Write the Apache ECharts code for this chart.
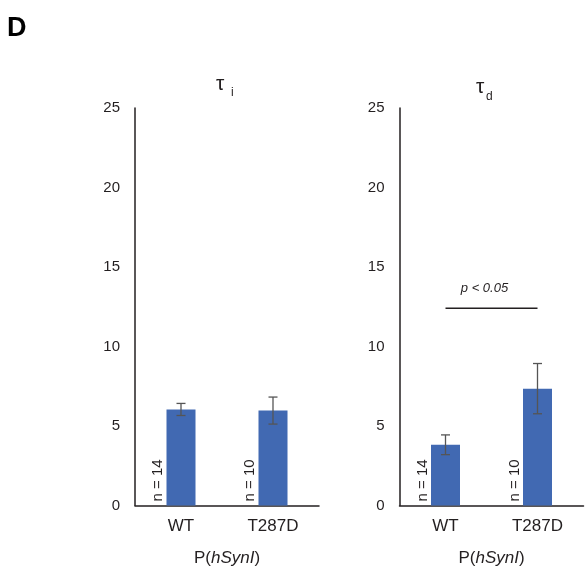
<!DOCTYPE html>
<html>
<head>
<meta charset="utf-8">
<script src="https://cdn.jsdelivr.net/npm/echarts@6/dist/echarts.min.js"></script>
<style>
  html, body { margin: 0; padding: 0; background: #fff; }
  #chart { width: 587px; height: 581px; }
</style>
</head>
<body>
<div id="chart"></div>
<script>
// 数据
const categories = ['WT', 'T287D'];
const nLabels = ['n = 14', 'n = 10'];
const tauIMean = [6.04, 5.97];
const tauIErr = [0.38, 0.85];
const tauDMean = [3.82, 7.35];
const tauDErr = [0.62, 1.58];
const yMax = 25;
const yStep = 5;
const sigLevel = 12.4;      // τd 两组之间的显著性横线
const sigText = 'p < 0.05';

const FONT = '"Liberation Sans", Arial, sans-serif';
const AXIS_COLOR = '#231f20';
const BAR_COLOR = '#4169b2';
const ERR_COLOR = '#555555';

/**
 * 误差线：竖线 + 上下两个短横
 */
function errorBarItem(means, errs) {
    return function (params, api) {
        const i = api.value(0);
        const hi = api.coord([i, means[i] + errs[i]]);
        const lo = api.coord([i, means[i] - errs[i]]);
        const half = 4.5;
        const style = { stroke: ERR_COLOR, lineWidth: 1.3 };
        return {
            type: 'group',
            children: [
                { type: 'line', shape: { x1: hi[0], y1: hi[1], x2: lo[0], y2: lo[1] }, style },
                { type: 'line', shape: { x1: hi[0] - half, y1: hi[1], x2: hi[0] + half, y2: hi[1] }, style },
                { type: 'line', shape: { x1: lo[0] - half, y1: lo[1], x2: lo[0] + half, y2: lo[1] }, style }
            ]
        };
    };
}

/**
 * 柱子左侧竖排的 n = xx 文字
 */
function nLabelItem(params, api) {
    const i = api.value(0);
    const p = api.coord([i, 0]);
    return {
        type: 'text',
        x: p[0] - 23,
        y: p[1] - 4,
        rotation: Math.PI / 2,
        style: {
            text: nLabels[i],
            font: '15px ' + FONT,
            fill: AXIS_COLOR,
            align: 'left',
            verticalAlign: 'middle'
        }
    };
}

function sigItem(params, api) {
    const a = api.coord([0, sigLevel]);
    const b = api.coord([1, sigLevel]);
    return {
        type: 'group',
        children: [
            { type: 'line', shape: { x1: a[0], y1: a[1], x2: b[0], y2: b[1] }, style: { stroke: AXIS_COLOR, lineWidth: 1.5 } },
            {
                type: 'text', x: (a[0] + b[0]) / 2 - 7, y: a[1] - 20,
                style: { text: sigText, font: 'italic 13px ' + FONT, fill: AXIS_COLOR, align: 'center', verticalAlign: 'middle' }
            }
        ]
    };
}

function xAxisFor(gridIndex) {
    return {
        type: 'category',
        gridIndex,
        data: categories,
        axisTick: { show: false },
        axisLine: { lineStyle: { color: AXIS_COLOR, width: 1.5 } },
        axisLabel: { color: AXIS_COLOR, fontSize: 17, fontFamily: FONT, margin: 12 },
        name: '{n|P(}{i|hSynI}{n|)}',
        nameLocation: 'middle',
        nameGap: 44,
        nameTextStyle: {
            rich: {
                n: { fontSize: 17, fontFamily: FONT, color: AXIS_COLOR },
                i: { fontSize: 17, fontFamily: FONT, color: AXIS_COLOR, fontStyle: 'italic' }
            }
        }
    };
}

function yAxisFor(gridIndex) {
    return {
        type: 'value',
        gridIndex,
        min: 0,
        max: yMax,
        interval: yStep,
        splitLine: { show: false },
        axisTick: { show: false },
        axisLine: { show: true, lineStyle: { color: AXIS_COLOR, width: 1.5 } },
        axisLabel: { color: AXIS_COLOR, fontSize: 15, fontFamily: FONT, margin: 15 }
    };
}

const chart = echarts.init(document.getElementById('chart'));
const idx = categories.map((_, i) => [i]);

chart.setOption({
    backgroundColor: '#fff',
    animation: false,
    grid: [
        { left: 135, top: 108, width: 184, height: 397.5 },
        { left: 399.5, top: 108, width: 184, height: 397.5 }
    ],
    xAxis: [xAxisFor(0), xAxisFor(1)],
    yAxis: [yAxisFor(0), yAxisFor(1)],
    graphic: [
        { type: 'text', left: 7, top: 15, style: { text: 'D', font: 'bold 27px ' + FONT, fill: '#000' } },
        { type: 'text', x: 216, y: 84, style: { text: 'τ', font: '21px ' + FONT, fill: AXIS_COLOR, verticalAlign: 'middle' } },
        { type: 'text', x: 231, y: 93, style: { text: 'i', font: '12px ' + FONT, fill: AXIS_COLOR, verticalAlign: 'middle' } },
        { type: 'text', x: 476, y: 87, style: { text: 'τ', font: '21px ' + FONT, fill: AXIS_COLOR, verticalAlign: 'middle' } },
        { type: 'text', x: 486, y: 97, style: { text: 'd', font: '12px ' + FONT, fill: AXIS_COLOR, verticalAlign: 'middle' } }
    ],
    series: [
        { type: 'bar', xAxisIndex: 0, yAxisIndex: 0, data: tauIMean, barWidth: 29, itemStyle: { color: BAR_COLOR } },
        { type: 'bar', xAxisIndex: 1, yAxisIndex: 1, data: tauDMean, barWidth: 29, itemStyle: { color: BAR_COLOR } },
        { type: 'custom', xAxisIndex: 0, yAxisIndex: 0, data: idx, renderItem: errorBarItem(tauIMean, tauIErr), z: 5 },
        { type: 'custom', xAxisIndex: 1, yAxisIndex: 1, data: idx, renderItem: errorBarItem(tauDMean, tauDErr), z: 5 },
        { type: 'custom', xAxisIndex: 0, yAxisIndex: 0, data: idx, renderItem: nLabelItem, z: 5 },
        { type: 'custom', xAxisIndex: 1, yAxisIndex: 1, data: idx, renderItem: nLabelItem, z: 5 },
        { type: 'custom', xAxisIndex: 1, yAxisIndex: 1, data: [[0]], renderItem: sigItem, z: 5 }
    ]
});
</script>
</body>
</html>
